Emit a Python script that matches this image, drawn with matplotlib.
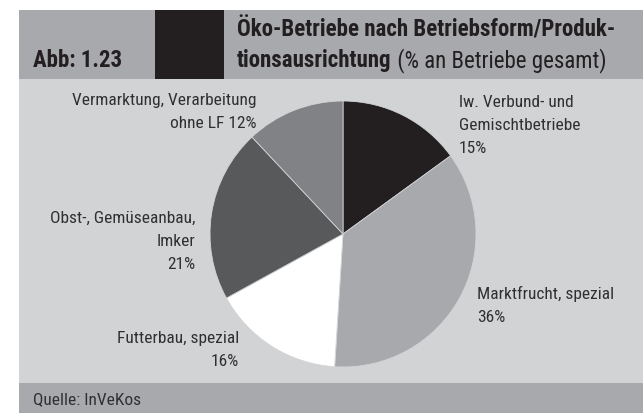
import matplotlib
matplotlib.use("Agg")
import matplotlib.pyplot as plt
from matplotlib.patches import Rectangle
from matplotlib import font_manager

W, H = 643, 414
DPI = 100

names = {f.name for f in font_manager.fontManager.ttflist}
FONT = "Liberation Sans"
for cand in ["Roboto Condensed", "Liberation Sans Narrow", "Arimo Narrow", "PT Sans Narrow",
             "Archivo Narrow"]:
    if cand in names:
        FONT = cand
        break
plt.rcParams['font.family'] = [FONT, 'DejaVu Sans']

categories = ["lw. Verbund- und\nGemischtbetriebe", "Marktfrucht, spezial", "Futterbau, spezial",
              "Obst-, Gemüseanbau,\nImker", "Vermarktung, Verarbeitung\nohne LF"]
values = [15, 36, 16, 21, 12]
colors = ["#231f20", "#a7a9ac", "#ffffff", "#58595b", "#808285"]

label_texts = [
    "lw. Verbund- und\nGemischtbetriebe\n15%",
    "Marktfrucht, spezial\n36%",
    "Futterbau, spezial\n16%",
    "Obst-, Gemüseanbau,\nImker\n21%",
    "Vermarktung, Verarbeitung\nohne LF 12%",
]
title_line1 = "Öko-Betriebe nach Betriebsform/Produk-"
title_line2_bold = "tionsausrichtung"
title_line2_rest = " (% an Betriebe gesamt)"
fig_label = "Abb: 1.23"
source = "Quelle: InVeKos"

fig = plt.figure(figsize=(W / DPI, H / DPI), dpi=DPI, facecolor="white")

def fx(x):
    return x / W

def fy(y):
    return 1 - y / H

def rect(x0, y0, x1, y1, color):
    fig.patches.append(Rectangle((fx(x0), fy(y1)), fx(x1) - fx(x0), fy(y0) - fy(y1),
                                 transform=fig.transFigure, facecolor=color, edgecolor="none", zorder=-5))

rect(19, 11, W, 80, "#a7a9ac")
rect(19, 80, W, 384, "#d1d3d4")
rect(19, 384, W, H, "#a7a9ac")
rect(155, 11, 224, 80, "#231f20")

cx, cy, r = 343, 235, 133
ax = fig.add_axes([fx(cx - r), fy(cy + r), 2 * r / W, 2 * r / H], zorder=2)
ax.pie(values, colors=colors, startangle=90, counterclock=False,
       wedgeprops=dict(linewidth=0.6, edgecolor="#d1d3d4"))
ax.set_xlim(-1, 1)
ax.set_ylim(-1, 1)
ax.set_aspect("auto")
ax.axis("off")

tc = "#303030"
lab_fs = 12.5
ls = 1.66
# anchor = baseline of the last line of each label
label_pos = [
    (459, 153, "left"),
    (477, 322, "left"),
    (239, 366, "right"),
    (195, 269, "right"),
    (257, 128, "right"),
]
for txt, (x, y, ha) in zip(label_texts, label_pos):
    fig.text(fx(x), fy(y), txt, ha=ha, va="baseline", fontsize=lab_fs, color=tc,
             linespacing=ls, zorder=3, multialignment=ha)

tfs = 16.5
tcol = "#231f20"
fig.text(fx(33), fy(67), fig_label, ha="left", va="baseline", fontsize=tfs, fontweight="bold", color=tcol, zorder=3)
fig.text(fx(237), fy(37), title_line1, ha="left", va="baseline", fontsize=tfs, fontweight="bold", color=tcol, zorder=3)
t2 = fig.text(fx(237), fy(67), title_line2_bold, ha="left", va="baseline", fontsize=tfs, fontweight="bold", color=tcol, zorder=3)
fig.canvas.draw()
bb = t2.get_window_extent(renderer=fig.canvas.get_renderer())
fig.text(bb.x1 / W, fy(67), title_line2_rest, ha="left", va="baseline", fontsize=tfs, color=tcol, zorder=3)

fig.text(fx(33), fy(404), source, ha="left", va="baseline", fontsize=12.5, color=tc, zorder=3)

fig.savefig("out.png", dpi=DPI, facecolor="white")
